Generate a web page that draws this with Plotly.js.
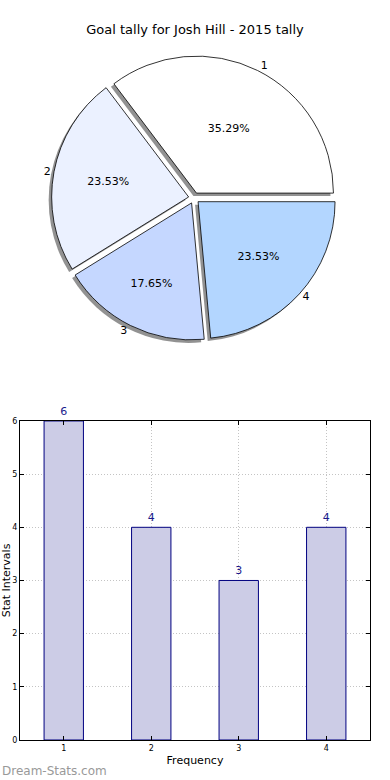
<!DOCTYPE html>
<html><head><meta charset="utf-8">
<script src="https://cdn.plot.ly/plotly-3.0.1.min.js"></script>
<style>html,body{margin:0;padding:0;background:#fff}#chart{width:390px;height:780px}</style>
</head><body><div id="chart"></div>
<script>
var categories = ["1", "2", "3", "4"];
var goals = [6, 4, 3, 4];
var sliceColors = ["#ffffff", "#ebf1ff", "#c5d7ff", "#b3d6ff"];
var yTicks = [0, 1, 2, 3, 4, 5, 6];

var total = goals.reduce(function (a, b) { return a + b; }, 0);
var startRotation = 90 - 360 * goals[0] / total;

var pieDomain = {x: [0.132, 0.863], y: [0.5635, 0.9288]};
var dx = -3 / 390, dy = -3 / 780;
var shadowDomain = {x: [pieDomain.x[0] + dx, pieDomain.x[1] + dx], y: [pieDomain.y[0] + dy, pieDomain.y[1] + dy]};
var pulls = categories.map(function () { return 0.04; });
var font = "DejaVu Sans, sans-serif";

var shadow = {
  type: "pie", labels: categories, values: goals, sort: false, direction: "counterclockwise", rotation: startRotation,
  pull: pulls, domain: shadowDomain, textinfo: "none", hoverinfo: "skip", showlegend: false,
  marker: {colors: categories.map(function () { return "rgba(110,110,110,0.75)"; }), line: {width: 0}}
};
var pie = {
  type: "pie", labels: categories, values: goals, sort: false, direction: "counterclockwise", rotation: startRotation,
  pull: pulls, domain: pieDomain, textposition: "inside", insidetextorientation: "horizontal",
  texttemplate: "%{percent:.2%}", showlegend: false,
  textfont: {family: font, size: 11, color: "#000"},
  marker: {colors: sliceColors, line: {color: "#000", width: 0.8}}
};
var pieLabels = {
  type: "pie", labels: categories, values: goals, sort: false, direction: "counterclockwise", rotation: startRotation,
  pull: pulls, domain: pieDomain, textposition: "outside", texttemplate: "%{label}", showlegend: false,
  hoverinfo: "skip", textfont: {family: font, size: 11, color: "#000"},
  marker: {colors: categories.map(function () { return "rgba(0,0,0,0)"; }), line: {width: 0}}
};
var bars = {
  type: "bar", x: categories.map(Number), y: goals, width: 0.45,
  marker: {color: "#ccccE6", line: {color: "#000080", width: 1}},
  text: goals.map(String), textposition: "outside", cliponaxis: false,
  textfont: {family: font, size: 11, color: "#1a1a8c"}, showlegend: false
};

var layout = {
  width: 390, height: 780, margin: {l: 0, r: 0, t: 0, b: 0},
  paper_bgcolor: "#fff", plot_bgcolor: "#fff",
  font: {family: font, color: "#000"},
  title: {text: "Goal tally for Josh Hill - 2015 tally", font: {family: font, size: 13, color: "#000"},
          x: 0.5, xanchor: "center", y: 0.962, yanchor: "middle"},
  xaxis: {domain: [0.0513, 0.9487], range: [0.5, 4.5], tickvals: categories.map(Number), ticktext: categories,
          showgrid: true, gridcolor: "#c4c4c4", griddash: "1px,2px", gridwidth: 1,
          showline: true, linecolor: "#000", linewidth: 1, mirror: "ticks",
          ticks: "inside", ticklen: 4, tickcolor: "#000", zeroline: false,
          tickfont: {family: font, size: 8, color: "#000"},
          title: {text: "Frequency", font: {family: font, size: 11, color: "#000"}, standoff: 4}},
  yaxis: {domain: [0.0513, 0.4603], range: [0, 6], tickvals: yTicks,
          showgrid: true, gridcolor: "#c4c4c4", griddash: "1px,2px", gridwidth: 1,
          showline: true, linecolor: "#000", linewidth: 1, mirror: "ticks",
          ticks: "inside", ticklen: 4, tickcolor: "#000", zeroline: false,
          tickfont: {family: font, size: 8, color: "#000"},
          title: {text: "Stat Intervals", font: {family: font, size: 11, color: "#000"}, standoff: 4}},
  annotations: [{text: "Dream-Stats.com", xref: "paper", yref: "paper", x: 0, y: 0.0115,
                 xanchor: "left", yanchor: "middle", showarrow: false,
                 font: {family: font, size: 12, color: "#999999"}}]
};

Plotly.newPlot("chart", [shadow, pie, pieLabels, bars], layout, {displayModeBar: false, staticPlot: true});
</script>
</body></html>
